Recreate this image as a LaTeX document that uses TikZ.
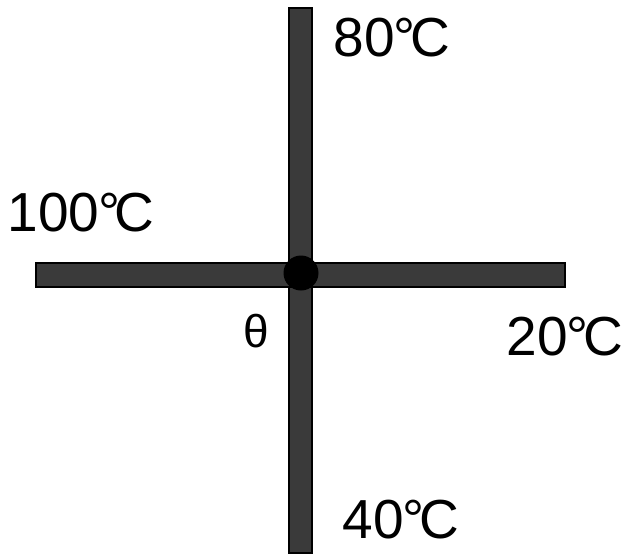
\documentclass[tikz,border=0pt]{standalone}
\usepackage{fontspec}
\setmainfont{Liberation Sans}
\begin{document}
\begin{tikzpicture}[x=1pt,y=-1pt,
  rod/.style={fill=rodgray,draw=black,line width=1.2pt},
  lbl/.style={font=\fontsize{55}{60}\selectfont,inner sep=0pt},
  ]
\definecolor{rodgray}{HTML}{3A3A3A}
\useasboundingbox (0,0) rectangle (625,555);
% rods
\draw[rod] (289,8) rectangle (312,553);
\draw[rod] (36,263) rectangle (565,287);
\node[circle,fill=black,minimum size=35pt,inner sep=0pt] (j) at (301,273) {};
% labels
\node[lbl] (t80) at (392,38) {80\kern-0.02em°\kern-0.1em C};
\node[lbl] (t100) at (81,213) {100\kern-0.02em°\kern-0.1em C};
\node[lbl] (t20) at (565,337) {20\kern-0.02em°\kern-0.1em C};
\node[lbl] (t40) at (401,520) {40\kern-0.02em°\kern-0.1em C};
\node[font=\fontsize{46}{50}\selectfont,inner sep=0pt] (th) at (256,331) {θ};
\end{tikzpicture}
\end{document}
